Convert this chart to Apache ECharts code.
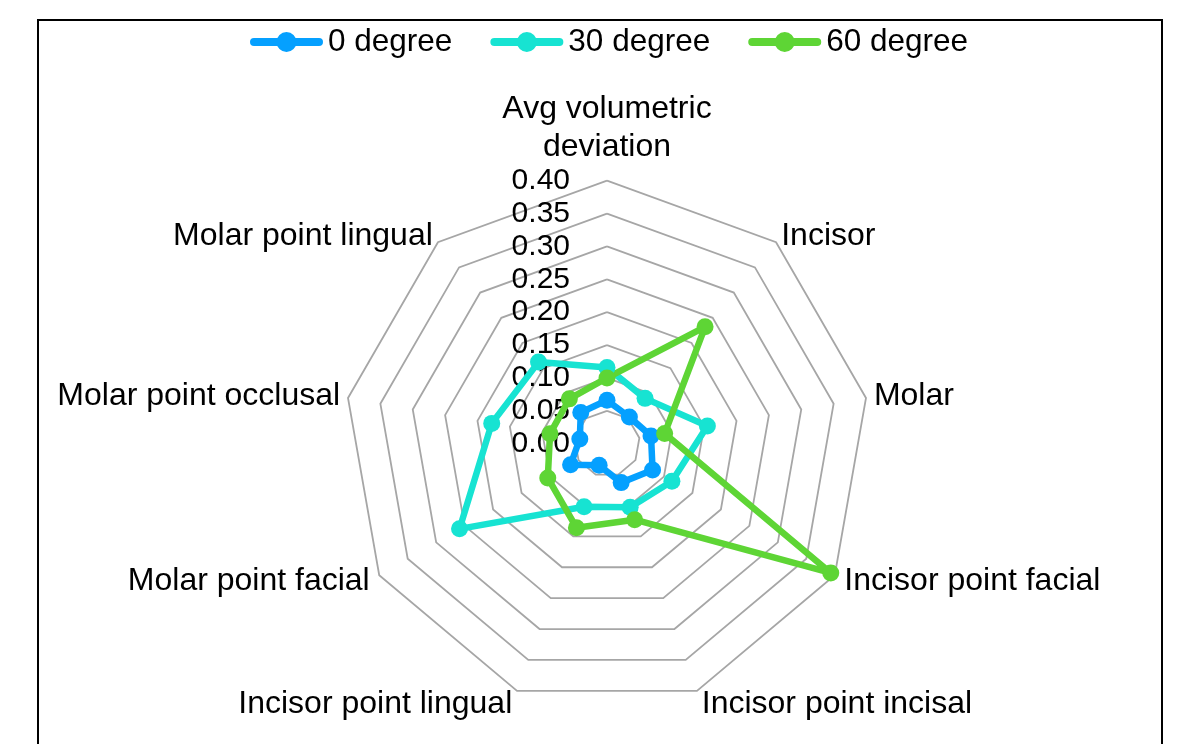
<!DOCTYPE html>
<html>
<head>
<meta charset="utf-8">
<script src="https://cdn.jsdelivr.net/npm/echarts@6/dist/echarts.min.js"></script>
<style>
html,body{margin:0;padding:0;background:#fff;}
#chart{position:absolute;left:0;top:0;width:1185px;height:744px;}
#frame{position:absolute;left:37px;top:19px;width:1122px;height:760px;border:2px solid #000;pointer-events:none;}
</style>
</head>
<body>
<div id="chart"></div>
<div id="frame"></div>
<script>
// Categories, clockwise from top
const categories = [
  "Avg volumetric\ndeviation",
  "Incisor",
  "Molar",
  "Incisor point facial",
  "Incisor point incisal",
  "Incisor point lingual",
  "Molar point facial",
  "Molar point occlusal",
  "Molar point lingual"
];
const seriesNames = ["0 degree", "30 degree", "60 degree"];
const deg0  = [0.066, 0.053, 0.068, 0.080, 0.063, 0.035, 0.064, 0.042, 0.062];
const deg30 = [0.116, 0.090, 0.155, 0.114, 0.103, 0.102, 0.259, 0.178, 0.162];
const deg60 = [0.100, 0.232, 0.089, 0.393, 0.123, 0.136, 0.104, 0.088, 0.089];
const axisMax = 0.40;
const axisSplits = 8;
const colors = ["#05A0FF", "#17E3D2", "#5ED535"];

// per-category name gaps (clockwise order)
const nameGaps = [14, 8, 8, 11, 14, 14, 11, 8, 8];

// ECharts places radar indicators counter-clockwise; reorder so the picture reads clockwise
function toCCW(arr){ return [arr[0]].concat(arr.slice(1).reverse()); }

const gapsCCW = toCCW(nameGaps);
const indicators = toCCW(categories).map((name, i) => {
  const ind = { name: name, min: 0, max: axisMax, nameGap: gapsCCW[i] };
  if (i === 0) {
    ind.axisLabel = { show: true };
  }
  return ind;
});

const legendIcon = 'path://M4,6 L28,6 L28,14 L4,14 A4,4 0 0,1 4,6 Z ' +
  'M45,6 L69,6 A4,4 0 0,1 69,14 L45,14 Z ' +
  'M26.5,10 A10,10 0 1,1 46.5,10 A10,10 0 1,1 26.5,10 Z';

const chart = echarts.init(document.getElementById('chart'));
const fontFam = 'Liberation Sans, Arial, Helvetica, sans-serif';
chart.setOption({
  animation: false,
  color: colors,
  legend: {
    data: seriesNames.map(n => ({ name: n, icon: legendIcon })),
    left: 245,
    top: 21,
    itemWidth: 73,
    itemHeight: 20,
    itemGap: 38,
    textStyle: { fontSize: 31.5, color: '#000', fontFamily: fontFam }
  },
  radar: {
    center: [607, 443.7],
    radius: 263,
    startAngle: 90,
    shape: 'polygon',
    splitNumber: axisSplits,
    nameGap: 8,
    axisName: { color: '#000', fontSize: 32, fontFamily: fontFam, lineHeight: 38 },
    axisLine: { show: false },
    axisTick: { show: false },
    axisLabel: {
      show: false,
      color: '#000',
      fontSize: 30,
      fontFamily: fontFam,
      margin: 37,
      formatter: v => Number(v).toFixed(2)
    },
    splitLine: { lineStyle: { color: '#A6A6A6', width: 1.8 } },
    splitArea: { show: false },
    indicator: indicators
  },
  series: [{
    type: 'radar',
    symbol: 'circle',
    symbolSize: 17,
    lineStyle: { width: 6.5 },
    data: [
      { name: seriesNames[0], value: toCCW(deg0) },
      { name: seriesNames[1], value: toCCW(deg30) },
      { name: seriesNames[2], value: toCCW(deg60) }
    ]
  }]
});
</script>
</body>
</html>
